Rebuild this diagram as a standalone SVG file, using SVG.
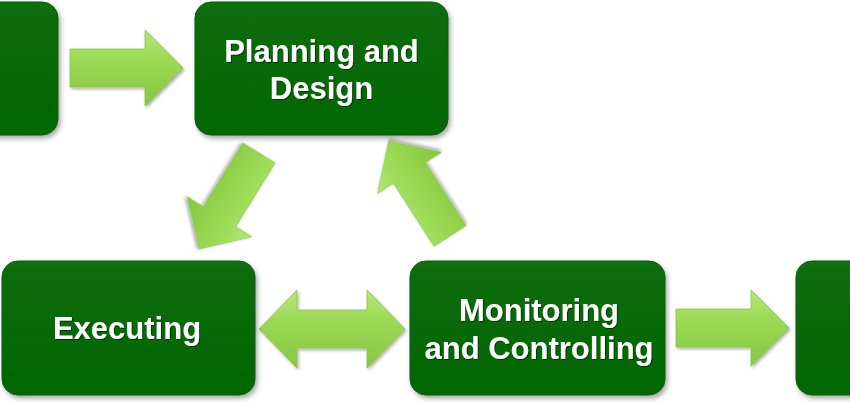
<svg xmlns="http://www.w3.org/2000/svg" width="850" height="402" viewBox="0 0 850 402">
<style>
.box{fill:url(#boxg);stroke:#0a5a0a;stroke-width:1;filter:url(#sh)}
.lbl{font-family:"Liberation Sans",Arial,sans-serif;font-weight:bold;font-size:31px;fill:#ffffff;text-anchor:middle;filter:url(#tsh)}
.arr{fill:url(#arrg);stroke:#86c444;stroke-width:0.8;filter:url(#ash)}
</style>
<defs>
<linearGradient id="boxg" x1="0" y1="0" x2="0" y2="1">
<stop offset="0" stop-color="#0a730a"/>
<stop offset="0.08" stop-color="#076b07"/>
<stop offset="1" stop-color="#066706"/>
</linearGradient>
<linearGradient id="arrg" x1="0" y1="0" x2="0" y2="1">
<stop offset="0" stop-color="#b4e879"/>
<stop offset="0.35" stop-color="#9edb58"/>
<stop offset="1" stop-color="#86c640"/>
</linearGradient>
<filter id="sh" x="-10%" y="-10%" width="130%" height="130%">
<feDropShadow dx="2" dy="3" stdDeviation="2.5" flood-color="#000" flood-opacity="0.35"/>
</filter>
<filter id="ash" x="-20%" y="-20%" width="140%" height="140%">
<feDropShadow dx="1.5" dy="2" stdDeviation="1.5" flood-color="#000" flood-opacity="0.3"/>
</filter>
<filter id="tsh" x="-5%" y="-20%" width="110%" height="140%">
<feDropShadow dx="1" dy="1" stdDeviation="0.6" flood-color="#000" flood-opacity="0.5"/>
</filter>
<path id="arrow" d="M0,-19 H75 V-38 L113,0 L75,38 V19 H0 Z"/>
</defs>

<g id="connectors">
<use href="#arrow" class="arr" transform="translate(70,68)"/>
<use href="#arrow" class="arr" transform="translate(259,153) rotate(121.8)"/>
<use href="#arrow" class="arr" transform="translate(450,236) rotate(-122.8)"/>
<path class="arr" d="M259,329 L297,290 V310 H367 V290 L405,329 L367,368 V348 H297 V368 Z"/>
<use href="#arrow" class="arr" transform="translate(676,328)"/>
</g>

<g id="node-initiating">
<rect class="box" x="-30" y="2" width="88" height="133" rx="16"/>
</g>
<g id="node-planning">
<rect class="box" x="195" y="2" width="253" height="133" rx="16"/>
<text class="lbl" x="321.5" y="62">Planning and</text>
<text class="lbl" x="321.5" y="99">Design</text>
</g>
<g id="node-executing">
<rect class="box" x="2" y="261" width="253" height="134" rx="16"/>
<text class="lbl" x="127" y="339">Executing</text>
</g>
<g id="node-monitoring">
<rect class="box" x="410" y="261" width="255" height="134" rx="16"/>
<text class="lbl" x="539" y="321">Monitoring</text>
<text class="lbl" x="539" y="359">and Controlling</text>
</g>
<g id="node-closing">
<rect class="box" x="796" y="261" width="90" height="134" rx="16"/>
</g>
</svg>
